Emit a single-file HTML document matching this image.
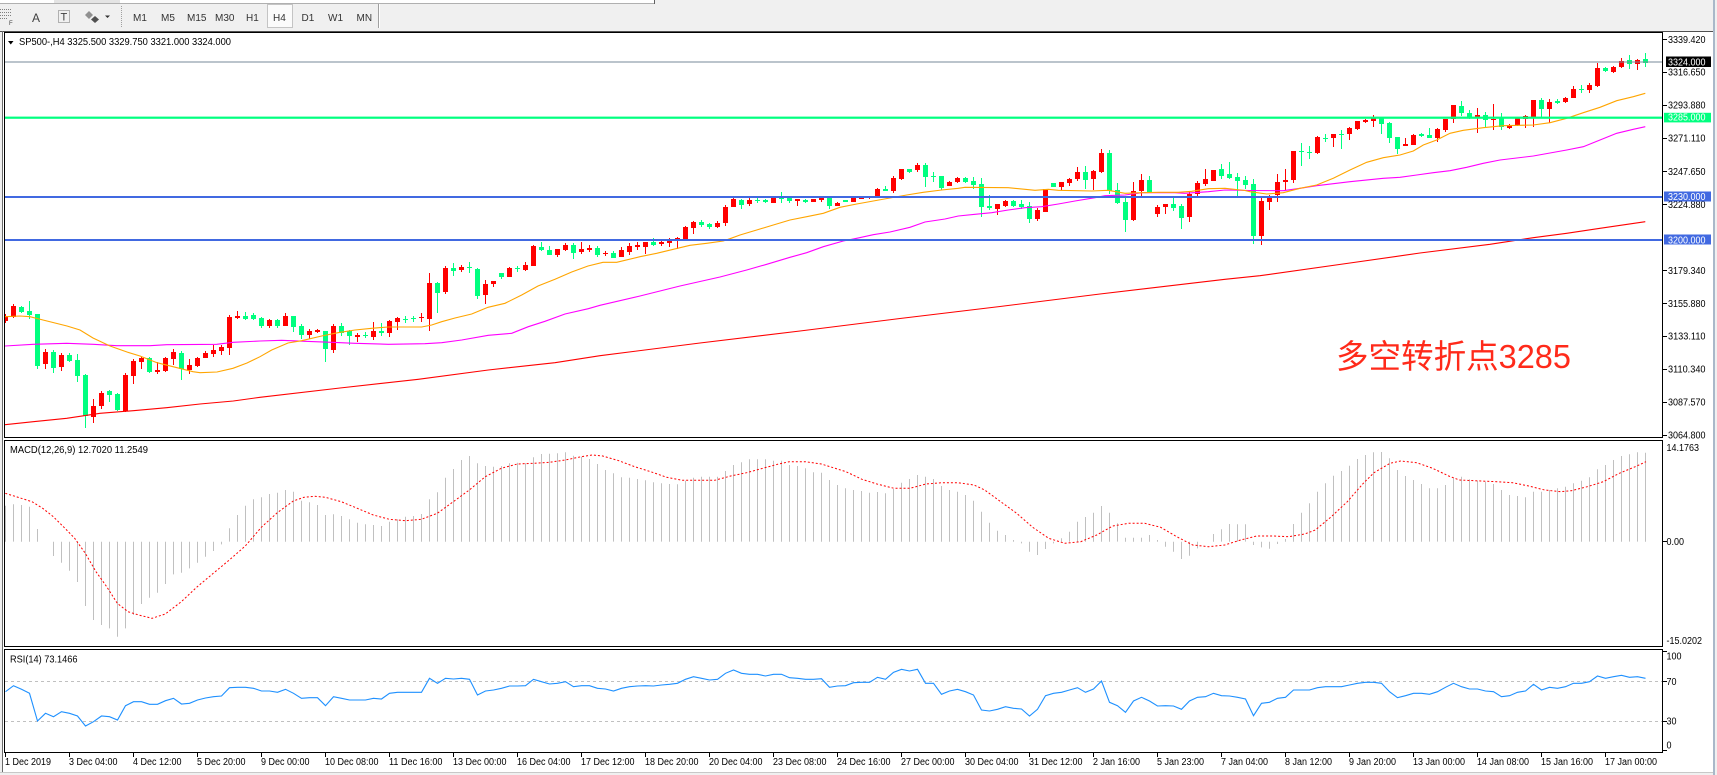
<!DOCTYPE html>
<html><head><meta charset="utf-8"><title>SP500 H4</title>
<style>
html,body{margin:0;padding:0;background:#f0f0f0;overflow:hidden;}
svg{display:block;}
text{font-family:"Liberation Sans","Noto Sans CJK SC",sans-serif;}
.t{font-size:10px;fill:#000;}
.b{font-size:10px;fill:#333;}
</style></head><body>
<svg id="s" xmlns="http://www.w3.org/2000/svg" width="1717" height="775" viewBox="0 0 1717 775">
<defs>
<clipPath id="cm"><rect x="5" y="33" width="1657" height="404"/></clipPath>
<clipPath id="cd"><rect x="5" y="441" width="1657" height="205"/></clipPath>
<clipPath id="cr"><rect x="5" y="650" width="1657" height="102"/></clipPath>
</defs>
<rect width="1717" height="775" fill="#f0f0f0"/>
<!-- top strip -->
<rect x="0" y="0" width="655" height="3" fill="#fff"/>
<rect x="54" y="0" width="66" height="3" fill="#e4e4e4"/>
<line x1="0" y1="3.5" x2="655" y2="3.5" stroke="#b0b0b0"/>
<line x1="654.5" y1="0" x2="654.5" y2="4" stroke="#606060"/>
<!-- toolbar icons -->
<g stroke="#808080" stroke-dasharray="1 1">
<line x1="0" y1="9.5" x2="11" y2="9.5"/>
<line x1="0" y1="12.5" x2="11" y2="12.5"/>
<line x1="0" y1="15.5" x2="11" y2="15.5"/>
<line x1="0" y1="18.5" x2="8" y2="18.5"/>
</g>
<text x="9" y="25" font-size="6" fill="#404040">F</text>
<text x="32" y="22" font-size="12" fill="#404040">A</text>
<rect x="58.5" y="10.5" width="11" height="12" fill="none" stroke="#707070" stroke-dasharray="1 1"/>
<text x="60.5" y="20.5" font-size="11" fill="#404040">T</text>
<path d="M89 11 L93 15 L89 19 L85 15 Z" fill="#909090"/>
<path d="M95 16 L99 19.5 L95 23 L91 19.5 Z" fill="#505050"/>
<path d="M105 15.5 h5 l-2.5 2.5 z" fill="#303030"/>
<line x1="121.5" y1="6" x2="121.5" y2="28" stroke="#a0a0a0" stroke-dasharray="1 1"/>
<rect x="267.5" y="4.5" width="25" height="23" fill="#fbfbfb" stroke="#c4c4c4"/>
<text class="b" x="133" y="21">M1</text>
<text class="b" x="161" y="21">M5</text>
<text class="b" x="187" y="21">M15</text>
<text class="b" x="215" y="21">M30</text>
<text class="b" x="246" y="21">H1</text>
<text class="b" x="273" y="21">H4</text>
<text class="b" x="301.5" y="21">D1</text>
<text class="b" x="328" y="21">W1</text>
<text class="b" x="356.5" y="21">MN</text>
<line x1="378.5" y1="4" x2="378.5" y2="28" stroke="#a0a0a0"/>
<line x1="379.5" y1="4" x2="379.5" y2="28" stroke="#fff"/>

<!-- chart window -->
<rect x="3" y="31" width="1710" height="741" fill="#fff"/>
<line x1="0" y1="31.5" x2="1713" y2="31.5" stroke="#505050"/>
<line x1="2.5" y1="31" x2="2.5" y2="772" stroke="#696969"/>
<rect x="1713" y="0" width="2" height="775" fill="#a9b8c9"/>
<line x1="0" y1="772.5" x2="1713" y2="772.5" stroke="#c8c8c8"/>

<!-- panels -->
<rect x="4.5" y="32.5" width="1658" height="405" fill="none" stroke="#000"/>
<rect x="4.5" y="440.5" width="1658" height="206" fill="none" stroke="#000"/>
<rect x="4.5" y="649.5" width="1658" height="103" fill="none" stroke="#000"/>

<g id="gmain" clip-path="url(#cm)"></g>
<g clip-path="url(#cm)">
<rect x="5" y="61.5" width="1657" height="1" fill="#778899"/>
<rect x="5" y="116.6" width="1657" height="2.2" fill="#00ff7f"/>
<rect x="5" y="196" width="1657" height="2" fill="#4169e1"/>
<rect x="5" y="239" width="1657" height="2" fill="#4169e1"/>
</g>
<g id="gmacd" clip-path="url(#cd)"></g>
<g clip-path="url(#cr)">
<line x1="5" y1="681.5" x2="1662" y2="681.5" stroke="#c0c0c0" stroke-dasharray="3 3"/>
<line x1="5" y1="721.5" x2="1662" y2="721.5" stroke="#c0c0c0" stroke-dasharray="3 3"/>
</g>
<g id="grsi" clip-path="url(#cr)"></g>

<!-- panel labels -->
<path d="M8 41 L13.5 41 L10.75 44.5 Z" fill="#000"/>
<text class="t" x="19" y="45" font-size="9.5" textLength="212" lengthAdjust="spacingAndGlyphs">SP500-,H4  3325.500 3329.750 3321.000 3324.000</text>
<text class="t" x="10" y="453" textLength="138" lengthAdjust="spacingAndGlyphs">MACD(12,26,9) 12.7020 11.2549</text>
<text class="t" x="10" y="662.5" textLength="67.5" lengthAdjust="spacingAndGlyphs">RSI(14) 73.1466</text>

<text x="1336" y="368" font-size="33" fill="#ff2a1a" textLength="235" lengthAdjust="spacingAndGlyphs" style="font-family:'Liberation Sans','Noto Sans CJK SC',sans-serif">多空转折点3285</text>

<!-- price axis ticks -->
<path d="M1663 39.5h4M1663 72.5h4M1663 105.5h4M1663 138.5h4M1663 171.5h4M1663 204.5h4M1663 270.5h4M1663 303.5h4M1663 336.5h4M1663 369.5h4M1663 402.5h4M1663 435.5h4M1663 541.5h4M1663 651.5h4M1663 681.5h4M1663 721.5h4M1663 750.5h4" stroke="#000" fill="none"/>
<g class="t">
<text class="t" x="1668" y="43" textLength="37.5" lengthAdjust="spacingAndGlyphs">3339.420</text>
<text class="t" x="1668" y="75.7" textLength="37.5" lengthAdjust="spacingAndGlyphs">3316.650</text>
<text class="t" x="1668" y="108.5" textLength="37.5" lengthAdjust="spacingAndGlyphs">3293.880</text>
<text class="t" x="1668" y="141.5" textLength="37.5" lengthAdjust="spacingAndGlyphs">3271.110</text>
<text class="t" x="1668" y="175" textLength="37.5" lengthAdjust="spacingAndGlyphs">3247.650</text>
<text class="t" x="1668" y="207.8" textLength="37.5" lengthAdjust="spacingAndGlyphs">3224.880</text>
<text class="t" x="1668" y="274.1" textLength="37.5" lengthAdjust="spacingAndGlyphs">3179.340</text>
<text class="t" x="1668" y="306.8" textLength="37.5" lengthAdjust="spacingAndGlyphs">3155.880</text>
<text class="t" x="1668" y="339.7" textLength="37.5" lengthAdjust="spacingAndGlyphs">3133.110</text>
<text class="t" x="1668" y="372.4" textLength="37.5" lengthAdjust="spacingAndGlyphs">3110.340</text>
<text class="t" x="1668" y="405.7" textLength="37.5" lengthAdjust="spacingAndGlyphs">3087.570</text>
<text class="t" x="1668" y="438.3" textLength="37.5" lengthAdjust="spacingAndGlyphs">3064.800</text>
<text class="t" x="1666.5" y="451.2" textLength="32.5" lengthAdjust="spacingAndGlyphs">14.1763</text>
<text class="t" x="1666.5" y="545.2" textLength="17.5" lengthAdjust="spacingAndGlyphs">0.00</text>
<text class="t" x="1666.5" y="644.2" textLength="35.5" lengthAdjust="spacingAndGlyphs">-15.0202</text>
<text class="t" x="1666.5" y="659.3" textLength="15" lengthAdjust="spacingAndGlyphs">100</text>
<text class="t" x="1666.5" y="685" textLength="10" lengthAdjust="spacingAndGlyphs">70</text>
<text class="t" x="1666.5" y="724.3" textLength="10" lengthAdjust="spacingAndGlyphs">30</text>
<text class="t" x="1666.5" y="748.5" textLength="5" lengthAdjust="spacingAndGlyphs">0</text>
</g>
<!-- highlighted price labels -->
<rect x="1666" y="56.5" width="45" height="10.5" fill="#000"/>
<text x="1668" y="65.6" font-size="10" fill="#fff" textLength="37.5" lengthAdjust="spacingAndGlyphs">3324.000</text>
<rect x="1664" y="112.8" width="47" height="9.6" fill="#00ff7f"/>
<text x="1668" y="120.7" font-size="10" fill="#fff" textLength="37.5" lengthAdjust="spacingAndGlyphs">3285.000</text>
<rect x="1664" y="191.5" width="47" height="10" fill="#4169e1"/>
<text x="1668" y="200.2" font-size="10" fill="#fff" textLength="37.5" lengthAdjust="spacingAndGlyphs">3230.000</text>
<rect x="1664" y="234.5" width="47" height="10" fill="#4169e1"/>
<text x="1668" y="243.3" font-size="10" fill="#fff" textLength="37.5" lengthAdjust="spacingAndGlyphs">3200.000</text>

<!-- time axis -->
<path id="tk" d="" stroke="#000"/>
<g>
<text class="t" x="5" y="765" textLength="46" lengthAdjust="spacingAndGlyphs">1 Dec 2019</text>
<text class="t" x="69" y="765" textLength="48.5" lengthAdjust="spacingAndGlyphs">3 Dec 04:00</text>
<text class="t" x="133" y="765" textLength="48.5" lengthAdjust="spacingAndGlyphs">4 Dec 12:00</text>
<text class="t" x="197" y="765" textLength="48.5" lengthAdjust="spacingAndGlyphs">5 Dec 20:00</text>
<text class="t" x="261" y="765" textLength="48.5" lengthAdjust="spacingAndGlyphs">9 Dec 00:00</text>
<text class="t" x="325" y="765" textLength="53.5" lengthAdjust="spacingAndGlyphs">10 Dec 08:00</text>
<text class="t" x="389" y="765" textLength="53.5" lengthAdjust="spacingAndGlyphs">11 Dec 16:00</text>
<text class="t" x="453" y="765" textLength="53.5" lengthAdjust="spacingAndGlyphs">13 Dec 00:00</text>
<text class="t" x="517" y="765" textLength="53.5" lengthAdjust="spacingAndGlyphs">16 Dec 04:00</text>
<text class="t" x="581" y="765" textLength="53.5" lengthAdjust="spacingAndGlyphs">17 Dec 12:00</text>
<text class="t" x="645" y="765" textLength="53.5" lengthAdjust="spacingAndGlyphs">18 Dec 20:00</text>
<text class="t" x="709" y="765" textLength="53.5" lengthAdjust="spacingAndGlyphs">20 Dec 04:00</text>
<text class="t" x="773" y="765" textLength="53.5" lengthAdjust="spacingAndGlyphs">23 Dec 08:00</text>
<text class="t" x="837" y="765" textLength="53.5" lengthAdjust="spacingAndGlyphs">24 Dec 16:00</text>
<text class="t" x="901" y="765" textLength="53.5" lengthAdjust="spacingAndGlyphs">27 Dec 00:00</text>
<text class="t" x="965" y="765" textLength="53.5" lengthAdjust="spacingAndGlyphs">30 Dec 04:00</text>
<text class="t" x="1029" y="765" textLength="53.5" lengthAdjust="spacingAndGlyphs">31 Dec 12:00</text>
<text class="t" x="1093" y="765" textLength="47" lengthAdjust="spacingAndGlyphs">2 Jan 16:00</text>
<text class="t" x="1157" y="765" textLength="47" lengthAdjust="spacingAndGlyphs">5 Jan 23:00</text>
<text class="t" x="1221" y="765" textLength="47" lengthAdjust="spacingAndGlyphs">7 Jan 04:00</text>
<text class="t" x="1285" y="765" textLength="47" lengthAdjust="spacingAndGlyphs">8 Jan 12:00</text>
<text class="t" x="1349" y="765" textLength="47" lengthAdjust="spacingAndGlyphs">9 Jan 20:00</text>
<text class="t" x="1413" y="765" textLength="52" lengthAdjust="spacingAndGlyphs">13 Jan 00:00</text>
<text class="t" x="1477" y="765" textLength="52" lengthAdjust="spacingAndGlyphs">14 Jan 08:00</text>
<text class="t" x="1541" y="765" textLength="52" lengthAdjust="spacingAndGlyphs">15 Jan 16:00</text>
<text class="t" x="1605" y="765" textLength="52" lengthAdjust="spacingAndGlyphs">17 Jan 00:00</text>
</g>
</svg>
<script>
(function(){
var NS='http://www.w3.org/2000/svg';
function el(t,a,p){var e=document.createElementNS(NS,t);for(var k in a)e.setAttribute(k,a[k]);p.appendChild(e);return e;}
function pts(a){var s=[];for(var i=0;i<a.length;i+=2)s.push(a[i].toFixed(1)+','+a[i+1].toFixed(1));return s.join(' ');}
// time ticks
var td='';for(var k=0;k<26;k++){td+='M'+(5.5+64*k)+' 753V757';}
document.getElementById('tk').setAttribute('d',td);

var C=[
316,321,314,323,1, 306,316.7,304,318,1, 306.7,312,306,313.3,0, 311,315,301,319,0, 314,366,314,368.7,0,
352,364,349,369,1, 352,367.7,350,372.7,0, 355,366.7,352.7,370.7,1, 355,360.7,353.3,362,0, 360,375.7,354,382,0,
374.7,415.7,374,428.3,0, 406,416.7,399,422.7,1, 392.7,405.7,391.3,408.7,1, 391,394.7,390,401.7,0, 393.7,410,392.7,411.3,0,
374.7,411,373.3,412,1, 361,375.7,358.7,384,1, 357.7,361.7,356.7,369,1, 358,371.7,357.3,373.3,0, 370,372.3,362.3,374.3,1,
357.7,370.7,356.7,372,1, 351.7,358.7,349.3,365,1, 353,369.3,351,380,0, 365,370,359,374,1, 357.7,366,356.7,366.7,1,
353.3,357.7,351,358.3,1, 350,354.3,344.7,356.7,1, 346.7,351,345,355,1, 317,347.7,315,355,1, 316,318,311,319,1,
316,319,312,320,0, 315.3,318.7,313,320,0, 317.7,326,316.7,327.7,0, 320,326,318.7,327.7,1, 320,325.7,319,327.7,0,
316,325.7,313,325.7,1, 316,326.7,316,331.7,0, 325.7,335,324,339.3,0, 331,335,329,339,1, 330.3,331.7,328.7,333.3,1,
331,349,331,361.7,0, 326,349.7,324,352.7,1, 326,333.3,323.3,335.7,0, 331,335.7,330,345,0, 334.7,336.7,333.3,341.7,1,
334.7,335.3,331.7,338.3,0, 331,336.7,322.3,340,1, 330.7,333.3,323.3,336,0, 321,333.3,320,336.7,1, 318,321.7,316.7,330,1,
319,319.7,315.7,322.7,0, 318.3,319,315.7,321.7,0, 317.3,318.3,312.7,321.7,1, 283,318.7,272.7,330.7,1, 282.7,292.7,281.7,312.7,0,
268,292,266,294,1, 268,270.7,263,276,0, 266.7,270,265,272,1, 267.3,268.3,261.7,272.7,0, 269,296,268.3,299,0,
284.3,294.7,280,304,1, 281,283.7,281,286.7,1, 273.3,277,273.3,279,0, 268,276.7,267.3,277.3,1, 268.3,269.3,266,272,0,
265,270,261.7,271,1, 246,265.7,245,266,1, 247.3,250,242,251,0, 249.7,254.7,246,255.3,0, 249,254.7,249,256.7,1,
245,250,243.3,251,1, 244.7,252.7,243.3,259,0, 249,252,242,254,1, 248,250,245.3,252,1, 248,254.7,246,256.7,0,
252.7,254,250.7,256,1, 253,257.7,251.3,258,0, 250,256.7,247.3,256.7,1, 246,252,242.7,255,1, 245,247,241.7,250,1,
242,246.7,241.7,254,1, 242,244.7,237.7,245.7,0, 242,244,241,246,1, 240.3,242.7,238.3,246.7,1, 238.3,241,237.3,249,1,
227,239,226,239,1, 222,227.7,220.7,234,1, 222,225,220.3,226.7,0, 224.3,227,223.3,229,0, 223,227,221,228,1,
207,223.3,205,226,1, 199,206.7,197.7,207,1, 200,204.7,199.3,208.7,0, 199.7,203.7,198,205.7,1, 199.7,201,198.3,202.7,0,
200,202,199.3,203.3,0, 197.7,202.7,196.7,202.7,1, 197.3,198.7,192,203,0, 197.7,201,196,202.7,0, 199,201,199,206,1,
199.7,201.7,199,203.3,0, 199,202,199,202,1, 197.7,200,197.7,202,1, 197.7,206,196,209,0, 202.7,206,201.7,206.3,1,
200,202,200,202,0, 197.7,202,196.7,202,1, 197.7,198.7,196.7,199.3,1, 197.3,198.3,196.7,199.3,1, 189,196,188.3,198.3,1,
189,191.3,186,191.3,0, 178.3,191.3,176,192.7,1, 169,179.3,169,180,1, 169,172,169,173,0, 165,170,162.7,172,1,
165,176.7,162.7,186.7,0, 176,177.3,171.7,181.7,0, 175.7,187.7,175.7,190,0, 181.7,186,180.7,186,1, 177.7,182.3,176.7,183.3,1,
177.7,181.7,176.7,182.7,0, 180.7,185,176.7,189,0, 184,206.7,177.7,216.7,0, 206,207.7,195,210,0, 204.3,209,204,214.7,1,
200.7,206,200,207.3,1, 200.7,206,200,206.7,0, 204,207.3,200,209,0, 206,219,202.3,222.7,0, 210,219,208.3,220.7,1,
189,211.7,189,211.7,1, 182.7,186.7,182.7,187.3,0, 182,187,182,190,1, 179,182.7,177.7,185.7,1, 172,179,166.7,180.7,1,
172,180,165.7,189,0, 171,179,170,190,1, 153,171.7,149,173,1, 153,190.7,150.3,194.3,0, 190,203,182.7,204,0,
202,219.7,197.7,231.7,0, 191,220,182,221,1, 180,191,174,195.7,1, 180,192,176,192,0, 207,213.7,205,217.3,1,
204.3,206.7,204.3,214,1, 204,208,197.3,211,0, 206,217.7,204.3,229,0, 194,216.7,191.7,222,1, 183,194.3,180.7,196,1,
179,184,169,186,1, 170,180.7,170,180.7,1, 169,175.7,164,179,0, 174,178,161.7,179,0, 177,180.7,173,196,0,
180,185,176,189,0, 184,235.7,179,244.3,0, 201,235.7,196.7,245,1, 197.7,201.7,195,210,1, 181.7,195,174,201.7,1,
180,181.7,169,190,1, 151,180,151,182.7,1, 151,151.7,143,165.7,0, 151.7,152.3,145.7,159,0, 137,152.7,135.7,154,1,
138.3,139,134.3,141.7,0, 133.7,138.3,133.7,146.7,1, 133.7,134.3,130.3,148.7,0, 128.3,134.3,126.7,140,1, 121,129.3,121,130.3,1,
120,121.7,119,122.7,1, 118.3,121,115,126.7,1, 117.7,124,116.7,134,0, 123,138,121.7,142.7,0, 137,148.7,137,154,0,
143.7,145.7,138.3,145.7,1, 134.7,144.7,133.7,145,1, 134.3,135.7,132.7,137.3,0, 135,137.7,128,138,0, 129,137.7,128.3,142,1,
119,130,119,132.3,1, 105,119,105,122.7,1, 106,112.7,101,116,0, 113.3,117.3,110,119,0, 115.3,117,108,132.7,1,
115,119.7,112.3,127.7,0, 118.5,119.5,104,129.7,1, 117.3,126.7,113.3,129.7,0, 125,128,123.7,128.7,1, 118.3,125,117.3,126,1,
116.3,119.3,115,128.3,1, 100,117.3,100,127.3,1, 100,109.3,98.3,116.7,0, 101.7,109,98.7,123.3,1, 100.7,102.7,99.3,104,0,
97.7,101.7,96.7,102.7,1, 89,98,86,98,1, 89,89.7,84.7,93.3,0, 85,90,83.3,92.7,1, 68.3,86,62.7,86.7,1,
68.3,71.3,66.7,72,0, 66.7,72,66,72.7,1, 61,66.7,58.3,67.7,1, 60,64,55,68.7,0, 60,64,59.3,69.7,1,
59,62.7,52.7,66.7,0
];
var gm=document.getElementById('gmain');
var rp='',gp='';
for(var i=0;i<C.length/5;i++){
 var t=Math.round(C[i*5]),b=Math.round(C[i*5+1]),wt=Math.round(C[i*5+2]),wb=Math.round(C[i*5+3]);
 if(b<=t)b=t+1; if(wt>t)wt=t; if(wb<b)wb=b;
 var x=3+8*i;
 var p='M'+(x+2)+' '+wt+'h1V'+wb+'h-1ZM'+x+' '+t+'h5V'+b+'h-5Z';
 if(C[i*5+4])rp+=p;else gp+=p;
}
el('path',{d:gp,fill:'#00ff7f'},gm);
el('path',{d:rp,fill:'#ff0000'},gm);

var OR=[5,316.7,20,316,30,316.7,43,320,67,326,80,330,93,338,110,346,127,352,140,356,157,362.7,173,366.7,193,371.7,200,372.7,217,372,233,368.3,247,363,260,356.7,271.7,350,288,343,301.7,340.7,321.7,336,338,332.7,355,330,371.7,328.3,388,327,421.7,327,431.7,325,441.7,321.7,455,318,471.7,314,488,307.3,505,303.3,521.7,295,538,286,555,279.3,571.7,272,588,266,603,262.3,616.7,262.3,640,256.7,656.7,253.3,673.3,249.3,690,245.3,706.7,243.3,723.3,241,730,238.7,740,235,756.7,230,773.3,225,790,220,806.7,216.7,823.3,213.3,840,207.3,856.7,204,873.3,201,890,198,906.7,195,923.3,192.3,941.7,190,958.3,188.3,965,187.3,1008.3,187.7,1025,189.3,1035,190.3,1048.3,189.3,1058.3,190.3,1091.7,191,1108.3,190.3,1125,193.3,1141.7,192.7,1158.3,192.3,1178.3,192.3,1191.7,191.3,1208.3,188.7,1225,188.3,1245,190.5,1250,191.7,1266.7,194,1283.3,192.7,1300,188.3,1316.7,185,1333.3,178.3,1350,170,1366.7,162.3,1383.3,157.7,1400,155,1413.3,151,1423.3,145,1436.7,140,1450,133.3,1463.3,130.3,1483.3,127.7,1503.3,125.7,1533.3,125,1550,122.7,1566.7,118.3,1583.3,112.7,1600,107.3,1616.7,100.7,1633.3,96.7,1645.3,93.3];
var MG=[5,346,33.3,344.3,66.7,343.3,93.3,344.3,116.7,345.7,150,345.7,166.7,344.7,216.7,344.3,233.3,342.3,260,341,281.7,340.3,305,341.3,331.7,342.3,355,343.3,388.3,344.3,425,343.7,441.7,342.7,461.7,340,488.3,335.3,511.7,333.3,528.3,326.7,545,321.3,565,314,588.3,308.7,600,305.3,640,296,680,286,720,277,746.7,270,766.7,264.3,790,257.3,806.7,252.7,823.3,246.7,843.3,241,856.7,238.3,873.3,234.7,890,232,910,227.3,925,222,945,219,958.3,216,975,214.3,991.7,212.7,1008.3,210,1025,207.7,1041.7,206.7,1058.3,204,1075,201,1095,197.7,1105,195.7,1125,195,1141.7,192.7,1175,192.7,1185,193.3,1208.3,191.7,1225,190,1250,190.5,1283.3,190.7,1300,188.3,1316.7,185.7,1350,181.7,1383.3,178.3,1400,177.3,1416.7,175,1433.3,172.7,1450,170.7,1466.7,167.3,1483.3,163.3,1500,160,1533.3,156,1566.7,150,1583.3,146.7,1600,140,1616.7,133.3,1633.3,129.3,1645.3,126.7];
var RD=[5,424.7,33.3,421.7,66.7,418.3,100,413.3,133.3,410.7,166.7,407.7,200,404,233.3,401,260,397.3,340,388,418.3,379.3,488.3,370,555,362.7,600,355.7,700,343,800,331,900,318.5,1000,306.5,1100,294,1225,279.3,1260,275.7,1350,263,1420,253,1490,244.3,1533.3,237.7,1566.7,233.3,1600,228.3,1645.3,221.7];
el('polyline',{points:pts(RD),fill:'none',stroke:'#ff0000','stroke-width':1.1},gm);
el('polyline',{points:pts(MG),fill:'none',stroke:'#ff00ff','stroke-width':1.1},gm);
el('polyline',{points:pts(OR),fill:'none',stroke:'#ffa500','stroke-width':1.1},gm);

// MACD histogram
var M=[197,193,195,200,267,305,348,368,392,426,
498,540,555,565,590,565,525,492,473,458,
432,403,398,385,368,350,333,313,265,225,
197,178,172,162,158,150,155,182,187,195,
225,223,228,238,248,253,255,258,245,238,
230,228,222,178,157,113,87,60,48,70,
78,80,78,70,68,70,52,42,41,40,
37,47,50,57,72,90,100,112,113,117,
121,127,130,132,133,122,113,110,110,110,
93,75,67,58,58,58,62,62,75,78,
85,97,98,120,135,145,150,153,158,156,
160,147,128,117,105,110,117,138,150,155,
165,182,215,248,272,285,300,310,335,345,
327,310,295,275,245,231,218,198,218,250,
293,293,293,285,300,320,335,357,347,325,
303,282,268,252,253,253,315,322,326,312,
297,252,218,190,155,130,107,93,77,57,
45,37,36,55,90,108,120,132,145,145,
135,115,110,118,122,125,132,150,165,168,
172,155,155,150,145,140,130,122,112,88,
75,60,48,43,37,38];
var gd=document.getElementById('gmacd');
var z=541.67,d='';
for(i=0;i<M.length;i++){var y=440+M[i]/3;if(Math.abs(y-z)<0.7)continue;var xx=5+8*i;var tt=Math.min(y,z),hh=Math.abs(y-z);d+='M'+xx+' '+tt.toFixed(1)+'h1v'+hh.toFixed(1)+'h-1Z';}
el('path',{d:d,fill:'#c0c0c0'},gd);
var S1=[10,160,40,175,60,185,80,205,100,230,120,262,140,295,160,340,180,395,200,440,220,490,240,515,260,525,285,535,310,522,340,485,370,440,400,400,430,360,460,318,490,262,520,218,550,183,570,172,590,169,610,172,640,185,670,205,700,225,730,238,760,242,790,238,820,220,850,185,880,150,910,110,940,85,970,72,1000,70,1030,67,1060,60,1090,50,1110,45,1130,48,1160,62,1190,80,1220,95,1250,112,1280,121,1310,121,1340,121,1370,108,1400,98,1430,85,1460,72,1480,65,1510,65,1540,72];
var S2=[0,80,30,95,60,118,90,133,120,145,150,145,180,132,210,128,240,128,270,135,290,150,320,185,350,220,380,262,410,295,440,310,470,305,500,285,530,258,560,250,590,250,620,262,650,290,680,315,710,320,740,315,770,300,800,288,830,288,860,290,890,282,910,270,940,230,970,185,1000,130,1020,98,1050,70,1070,63,1100,68,1130,85,1160,108,1180,120,1220,123,1250,125,1280,128,1310,138,1340,150,1370,155,1390,152,1420,140,1450,125,1480,100,1510,80,1530,65];
var SG=[];
for(i=0;i<S1.length;i+=2){SG.push(S1[i]/1.875,440+S1[i+1]/3);}
for(i=0;i<S2.length;i+=2){SG.push(830+S2[i]/1.875,440+S2[i+1]/3);}
el('polyline',{points:pts(SG),fill:'none',stroke:'#ff0000','stroke-width':1,'stroke-dasharray':'2 2'},gd);

// RSI
var R=[755,737,748,760,843,820,830,815,820,828,858,845,828,830,840,797,785,785,793,793,782,775,792,790,780,774,770,768,743,742,742,745,753,753,757,748,760,775,773,773,797,770,775,780,780,780,775,777,760,757,757,757,757,715,730,715,717,715,718,765,753,750,745,738,738,737,718,725,732,730,725,740,737,737,745,747,753,745,740,738,737,738,735,733,730,718,710,715,720,718,700,690,700,703,703,708,703,703,713,715,718,718,716,742,
738,737,728,727,727,712,718,697,688,693,688,730,730,763,753,748,755,765,810,813,808,800,805,807,828,808,767,760,757,750,743,757,747,723,787,797,817,783,772,783,798,797,798,808,783,772,770,760,767,768,772,777,827,790,787,775,772,750,750,750,743,740,740,740,735,730,727,727,730,755,773,767,760,760,763,755,742,730,740,747,747,753,755,770,767,757,753,733,750,742,745,740,730,730,725,708,715,710,706,712,710,715];
var RP=[];
for(i=0;i<R.length;i++){RP.push(5.5+8*i,440+R[i]/3);}
el('polyline',{points:pts(RP),fill:'none',stroke:'#1e90ff','stroke-width':1.1},document.getElementById('grsi'));
})();
</script>
</body></html>
